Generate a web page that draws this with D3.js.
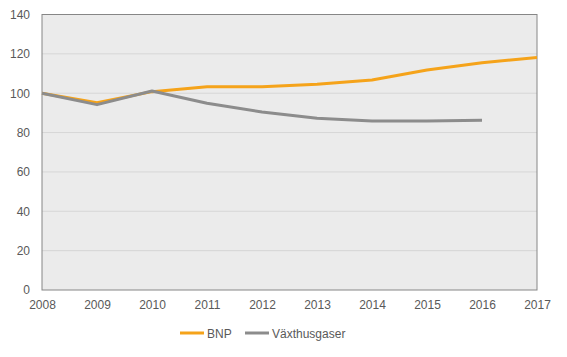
<!DOCTYPE html>
<html><head><meta charset="utf-8">
<script src="https://cdn.jsdelivr.net/npm/d3@7"></script>
<style>body{margin:0;background:#fff}svg{display:block}text{font-family:"Liberation Sans",Arial,sans-serif}</style>
</head><body>
<svg id="c" width="567" height="357"></svg>
<script>
const years = [2008,2009,2010,2011,2012,2013,2014,2015,2016,2017];
const bnp = [100,95.2,100.8,103.3,103.3,104.5,106.7,111.8,115.5,118.2];
const vaxthus = [100,94.2,101.1,94.9,90.5,87.3,85.9,85.9,86.2,null];
const yTicks = [0,20,40,60,80,100,120,140];
const seriesNames = ["BNP","Växthusgaser"];
const colors = ["#f5a31a","#8c8c8c"];

const svg = d3.select("#c");
const L=42,R=537,T=14.5,B=290;
const x = d3.scaleLinear().domain([2008,2017]).range([L,R]);
const y = d3.scaleLinear().domain([0,140]).range([B,T]);

svg.append("rect").attr("x",L).attr("y",T).attr("width",R-L).attr("height",B-T).attr("fill","#ebebeb");
svg.append("g").selectAll("line").data(yTicks.filter(d=>d>0&&d<140)).join("line")
  .attr("x1",L).attr("x2",R).attr("y1",d=>y(d)).attr("y2",d=>y(d))
  .attr("stroke","#d6d6d6").attr("stroke-width",1);
svg.append("rect").attr("x",L).attr("y",T).attr("width",R-L).attr("height",B-T)
  .attr("fill","none").attr("stroke","#868686").attr("stroke-width",1);

const yAxis = d3.axisLeft(y).tickValues(yTicks).tickSize(0).tickPadding(12);
const gy = svg.append("g").attr("transform",`translate(${L},0)`).call(yAxis);
gy.select(".domain").remove();
gy.selectAll("text").attr("fill","#595959").style("font-size","12px");

const xAxis = d3.axisBottom(x).tickValues(years).tickFormat(d3.format("d")).tickSize(0).tickPadding(10);
const gx = svg.append("g").attr("transform",`translate(0,${B})`).call(xAxis);
gx.select(".domain").remove();
gx.selectAll("text").attr("fill","#595959").style("font-size","12px");

const line = d3.line().defined(d=>d[1]!=null).x(d=>x(d[0])).y(d=>y(d[1]));
[bnp,vaxthus].forEach((s,i)=>{
  svg.append("path").datum(years.map((yr,j)=>[yr,s[j]]))
    .attr("d",line).attr("fill","none").attr("stroke",colors[i])
    .attr("stroke-width",3).attr("stroke-linejoin","round");
});

const leg = svg.append("g");
const lx = [180,245];
seriesNames.forEach((n,i)=>{
  leg.append("line").attr("x1",lx[i]).attr("x2",lx[i]+24).attr("y1",333).attr("y2",333)
    .attr("stroke",colors[i]).attr("stroke-width",3);
  leg.append("text").attr("x",lx[i]+27).attr("y",337.5).attr("fill","#595959")
    .style("font-size","12px").text(n);
});
</script>
</body></html>
